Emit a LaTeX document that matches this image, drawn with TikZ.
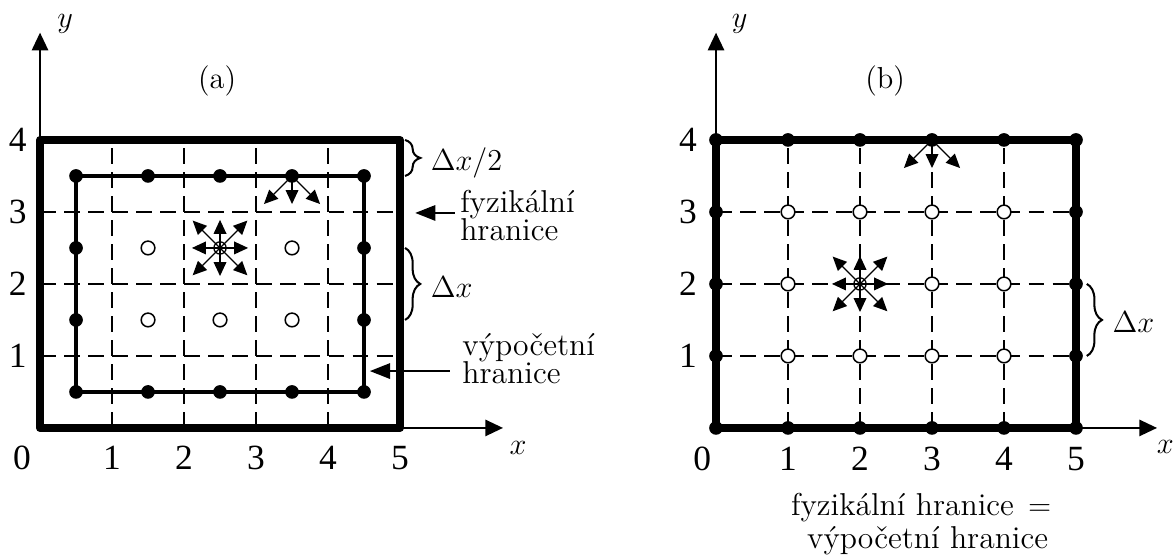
\documentclass[tikz,border=0pt]{standalone}
\usepackage{fontspec}
\newfontfamily\numfont{Liberation Serif}
\usetikzlibrary{arrows.meta,decorations.pathreplacing}
\begin{document}
\begin{tikzpicture}[x=1cm,y=1cm,
  outerbox/.style={line width=3.2pt, line join=round},
  innerbox/.style={line width=1.8pt, line join=round},
  gridline/.style={line width=1.1pt, dash pattern=on 6.3pt off 3.2pt},
  axisline/.style={line width=0.6pt, -{Triangle[length=7pt,width=6.5pt]}},
  flux/.style={line width=0.5pt, -{Triangle[length=5.5pt,width=5pt]}},
  pointer/.style={line width=1pt, -{Triangle[length=8pt,width=6pt]}},
  fdot/.style={circle, fill=black, inner sep=0pt, minimum size=0.19cm},
  odot/.style={circle, draw, fill=white, line width=0.6pt, inner sep=0pt, minimum size=0.19cm},
  cdot/.style={circle, draw, line width=0.5pt, inner sep=0pt, minimum size=0.17cm},
  num/.style={font=\numfont\fontsize{14}{14}\selectfont, inner sep=0pt},
  lbl/.style={font=\fontsize{12.5}{13}\selectfont, inner sep=0pt},
  ttl/.style={font=\fontsize{12}{12}\selectfont, inner sep=0pt},
  mlbl/.style={font=\fontsize{11.5}{12}\selectfont, inner sep=0pt},
  brc/.style={decorate, decoration={brace, amplitude=6pt}, line width=0.8pt},
]
\useasboundingbox (-0.556,-1.819) rectangle (15.778,5.944);

% ================= panel (a) =================
\begin{scope}
\coordinate (ao) at (0,0);
\coordinate (ay) at (0,5.49);
\coordinate (ax) at (6.43,0);
\draw[axisline] (ao) -- (ay);
\draw[axisline] (ao) -- (ax);
\node[mlbl] (aylab) at (0.35,5.61) {$y$};
\node[mlbl] (axlab) at (6.64,-0.28) {$x$};
\node[ttl] (atitle) at (2.46,4.82) {(a)};
% grid
\foreach \i in {1,...,4} \draw[gridline] (\i,0) -- (\i,4);
\foreach \j in {1,...,3} \draw[gridline] (0,\j) -- (5,\j);
% boxes
\draw[outerbox] (0,0) rectangle (5,4);
\draw[innerbox] (0.5,0.5) rectangle (4.5,3.5);
% filled dots on computational boundary
\foreach \i in {0,...,4} {
  \node[fdot] (ab\i) at (\i+0.5,0.5) {};
  \node[fdot] (at\i) at (\i+0.5,3.5) {};
}
\foreach \j in {1,2} {
  \node[fdot] (al\j) at (0.5,\j+0.5) {};
  \node[fdot] (ar\j) at (4.5,\j+0.5) {};
}
% open circles
\foreach \p/\q in {1/1,2/1,3/1,1/2,3/2}
  \node[odot] (ac\p\q) at (\p+0.5,\q+0.5) {};
% central cell with fluxes
\node[cdot] (acen) at (2.5,2.5) {};
\foreach \dx/\dy in {0.39/0,-0.39/0,0/0.39,0/-0.39,0.38/0.38,-0.38/0.38,0.38/-0.38,-0.38/-0.38}
  \draw[flux] (acen.center) -- ++(\dx,\dy);
% boundary fluxes
\foreach \dx/\dy in {-0.39/-0.39,0/-0.39,0.39/-0.39}
  \draw[flux] (at3.center) -- ++(\dx,\dy);
% numbers
\foreach \j in {1,...,4} \node[num] (ay\j) at (-0.31,\j) {\j};
\node[num] (ax0) at (-0.25,-0.42) {0};
\foreach \i in {1,...,5} \node[num] (ax\i) at (\i,-0.42) {\i};
% braces
\draw[brc] (5.07,4) -- (5.07,3.5);
\node[mlbl, anchor=west] (ahalf) at (5.42,3.68) {$\Delta x/2$};
\draw[brc] (5.07,2.5) -- (5.07,1.5);
\node[mlbl, anchor=west] (adx) at (5.42,1.96) {$\Delta x$};
% labels with pointers
\node[lbl, anchor=base west] (afyz1) at (5.83,2.99) {fyzikální};
\node[lbl, anchor=base west] (afyz2) at (5.83,2.60) {hranice};
\coordinate (afyzt) at (5.76,2.986);
\coordinate (afyzh) at (5.21,2.986);
\draw[pointer] (afyzt) -- (afyzh);
\node[lbl, anchor=base west] (avyp1) at (5.86,1.01) {výpočetní};
\node[lbl, anchor=base west] (avyp2) at (5.86,0.62) {hranice};
\coordinate (avypt) at (5.69,0.79);
\coordinate (avyph) at (4.58,0.79);
\draw[pointer] (avypt) -- (avyph);
\end{scope}

% ================= panel (b) =================
\begin{scope}[shift={(9.389,0)}]
\coordinate (bo) at (0,0);
\coordinate (by) at (0,5.49);
\coordinate (bx) at (6.125,0);
\draw[axisline] (bo) -- (by);
\draw[axisline] (bo) -- (bx);
\node[mlbl] (bylab) at (0.33,5.61) {$y$};
\node[mlbl] (bxlab) at (6.24,-0.26) {$x$};
\node[ttl] (btitle) at (2.35,4.82) {(b)};
\foreach \i in {1,...,4} \draw[gridline] (\i,0) -- (\i,4);
\foreach \j in {1,...,3} \draw[gridline] (0,\j) -- (5,\j);
\draw[outerbox] (0,0) rectangle (5,4);
\foreach \i in {0,...,5} {
  \node[fdot] (bb\i) at (\i,0) {};
  \node[fdot] (bt\i) at (\i,4) {};
}
\foreach \j in {1,...,3} {
  \node[fdot] (bl\j) at (0,\j) {};
  \node[fdot] (br\j) at (5,\j) {};
}
\foreach \p/\q in {1/1,2/1,3/1,4/1,1/2,3/2,4/2,1/3,2/3,3/3,4/3}
  \node[odot] (bc\p\q) at (\p,\q) {};
\node[cdot] (bcen) at (2,2) {};
\foreach \dx/\dy in {0.39/0,-0.39/0,0/0.39,0/-0.39,0.38/0.38,-0.38/0.38,0.38/-0.38,-0.38/-0.38}
  \draw[flux] (bcen.center) -- ++(\dx,\dy);
\foreach \dx/\dy in {-0.39/-0.39,0/-0.39,0.39/-0.39}
  \draw[flux] (bt3.center) -- ++(\dx,\dy);
\foreach \j in {1,...,4} \node[num] (by\j) at (-0.39,\j) {\j};
\node[num] (bx0) at (-0.19,-0.43) {0};
\foreach \i in {1,...,5} \node[num] (bx\i) at (\i,-0.43) {\i};
\draw[brc] (5.15,2) -- (5.15,1);
\node[mlbl, anchor=west] (bdx) at (5.5,1.47) {$\Delta x$};
\node[lbl, anchor=base] (bnote1) at (2.85,-1.22) {fyzikální hranice\hspace{0.45em}$=$};
\node[lbl, anchor=base] (bnote2) at (2.94,-1.67) {výpočetní hranice};
\end{scope}
\end{tikzpicture}
\end{document}
